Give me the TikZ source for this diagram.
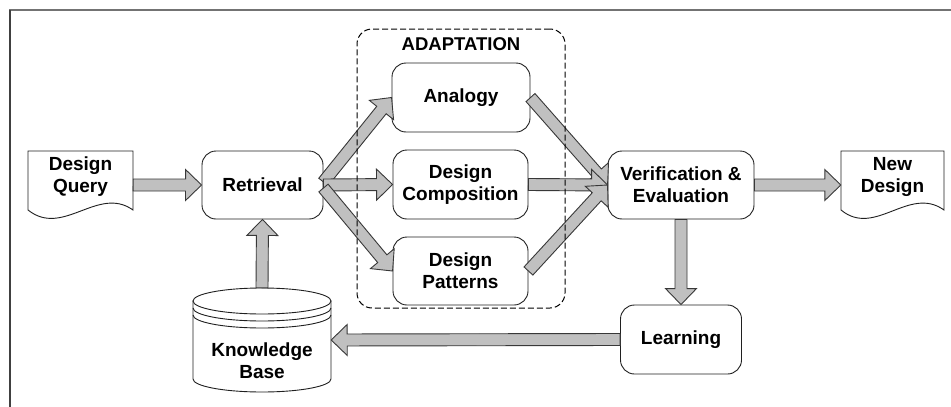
\documentclass[tikz,border=0pt]{standalone}
\usepackage{fontspec}
\setmainfont{Liberation Sans}
\usetikzlibrary{calc}

\definecolor{arrowfill}{HTML}{C0C0C0}
\definecolor{arrowline}{HTML}{383838}
\definecolor{boxline}{HTML}{202020}

\tikzset{
  base/.style={font=\fontsize{19}{22}\selectfont\bfseries, align=center, text=black, inner sep=0pt},
  procbox/.style={base, draw=boxline, line width=0.9pt, fill=white, rounded corners=14pt, minimum height=68pt},
  outline/.style={draw=boxline, line width=0.9pt, fill=white},
  fat/.style={fill=arrowfill, draw=arrowline, line width=0.9pt, line join=miter},
  adaptbox/.style={draw=black, line width=1pt, dash pattern=on 6pt off 3pt, rounded corners=15pt, inner sep=0pt},
}

% block arrow from one point to another: shaft 12pt wide, head 31pt wide and 16pt long
\newcommand\fatarrow[2]{%
  \path[fat] let \p1=(#1), \p2=(#2),
    \n1={atan2(\y2-\y1,\x2-\x1)}, \n2={veclen(\x2-\x1,\y2-\y1)} in
    (\p1) ++({\n1+90}:6pt) -- ++({\n1}:{\n2-16pt}) -- ++({\n1+90}:9.5pt)
    -- (\p2) -- ++({\n1+224.09}:22.28pt) -- ++({\n1+90}:9.5pt)
    -- ++({\n1+180}:{\n2-16pt}) -- cycle;}

\begin{document}
\begin{tikzpicture}[x=1pt, y=-1pt]
\useasboundingbox (0,0) rectangle (951,407);

% frame
\draw[line width=2pt, gray!90!black] (9,10) -- (951,10);
\draw[line width=2pt, black!75] (9.5,10) -- (9.5,407);

% document shapes
\node[base, minimum width=105pt, minimum height=68pt] (dq) at (80.5,185) {};
\path[outline] (28,151) -- (133,151) -- (133,210)
  .. controls (98,185) and (63,238) .. (28,210) -- cycle;
\node[base] (dqtext) at (80.5,177) {Design\\Query};

\node[base, minimum width=103pt, minimum height=68pt] (nd) at (892.5,185) {};
\path[outline] (841,151) -- (944,151) -- (944,210)
  .. controls (909,185) and (875,238) .. (841,210) -- cycle;
\node[base] (ndtext) at (892.5,177) {New\\Design};

% process boxes
\node[procbox, minimum width=121pt] (ret) at (262.5,185) {Retrieval};
\node[procbox, minimum width=138pt, minimum height=69pt] (ana) at (461,97.5) {Analogy};
\node[procbox, minimum width=135pt, minimum height=69pt] (comp) at (460.5,184.5) {Design\\Composition};
\node[procbox, minimum width=135pt] (pat) at (460.5,271) {Design\\Patterns};
\node[procbox, minimum width=146pt] (ver) at (681,185) {Verification \&\\Evaluation};
\node[procbox, minimum width=121pt, minimum height=69pt] (lrn) at (681,339.5) {Learning};

% knowledge base cylinder
\node[base, minimum width=138pt, minimum height=104pt] (kb) at (262,340) {};
\path[outline] (193,301) -- (193,379) arc[start angle=180, end angle=360, x radius=69pt, y radius=13pt]
  -- (331,301) -- cycle;
\draw[outline] (262,301) ellipse[x radius=69pt, y radius=13pt];
\draw[boxline, line width=0.9pt] (193,308) arc[start angle=180, end angle=360, x radius=69pt, y radius=13pt];
\draw[boxline, line width=0.9pt] (193,315) arc[start angle=180, end angle=360, x radius=69pt, y radius=13pt];
\node[base] (kbtext) at (262,361) {Knowledge\\Base};

% connectors
\fatarrow{dq.east}{ret.west}
\fatarrow{[yshift=3pt]ret.east}{ana.west}
\fatarrow{ret.east}{comp.west}
\fatarrow{[yshift=-3pt]ret.east}{pat.west}
\fatarrow{ana.east}{ver.west}
\fatarrow{comp.east}{ver.west}
\fatarrow{pat.east}{ver.west}
\fatarrow{ver.east}{nd.west}
\fatarrow{ver.south}{lrn.north}
\fatarrow{lrn.west}{kb.east}
\fatarrow{kb.north}{ret.south}

% adaptation group
\node[adaptbox, minimum width=208pt, minimum height=279pt] (adapt) at (461,168.5) {};
\node[base, font=\fontsize{18.5}{22}\selectfont\bfseries] (adlbl) at (461,44) {ADAPTATION};
\end{tikzpicture}
\end{document}
